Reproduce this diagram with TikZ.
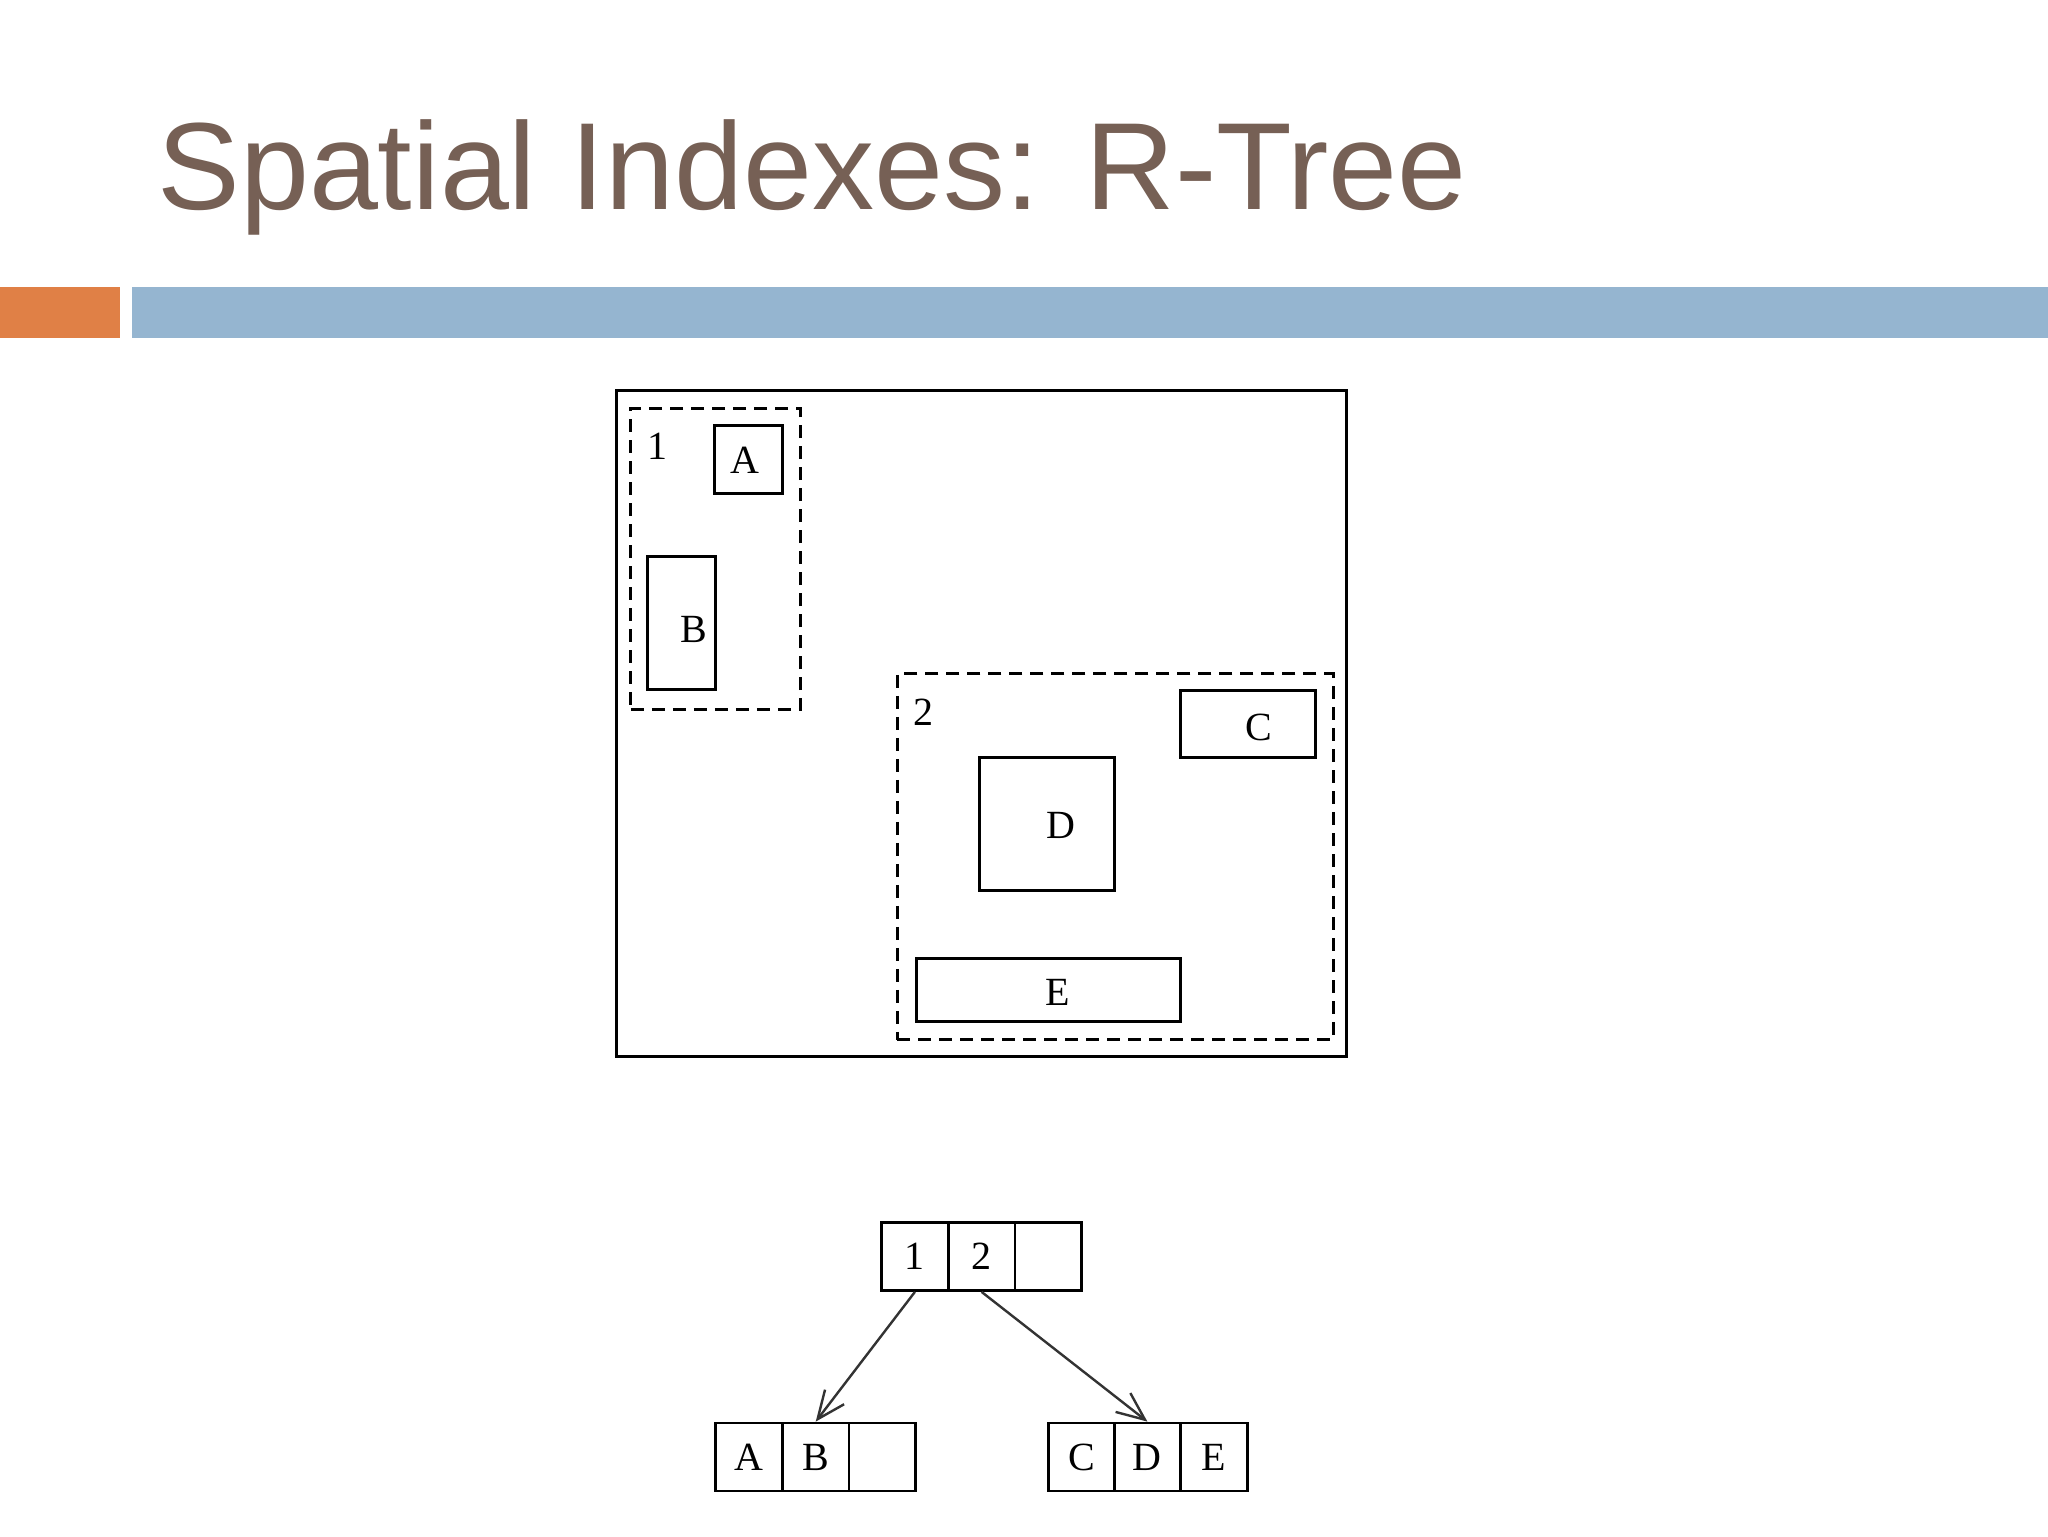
\documentclass[tikz,border=0pt]{standalone}
\usepackage{fontspec}
\setmainfont{Liberation Serif}
\newfontfamily\titlefont{Liberation Sans}
\usetikzlibrary{arrows.meta}
\definecolor{titlecol}{RGB}{118,96,85}
\definecolor{orangebar}{RGB}{224,128,70}
\definecolor{bluebar}{RGB}{149,181,208}
\tikzset{
  box/.style={draw=black, line width=1.5pt, inner sep=0pt},
  mbr/.style={draw=black, line width=1.5pt, dash pattern=on 6.5pt off 4pt, inner sep=0pt},
  lbl/.style={font=\fontsize{20}{20}\selectfont, inner sep=0pt},
  cell/.style={draw=black, line width=1.4pt, minimum width=33.3pt, minimum height=34pt, inner sep=0pt, font=\fontsize{20}{20}\selectfont},
  ptr/.style={draw=black!80, line width=1.2pt, -{Straight Barb[length=14pt,width=12pt,line width=1.2pt]}}
}
\begin{document}
\begin{tikzpicture}[x=0.5pt,y=-0.5pt]
\fill[white] (0,0) rectangle (2048,1536);
\useasboundingbox (0,0) rectangle (2048,1536);
% title and bars
\node[anchor=base west, font=\titlefont\fontsize{62}{62}\selectfont, text=titlecol, inner sep=0pt] (title) at (157,209) {Spatial Indexes: R-Tree};
\fill[orangebar] (0,287) rectangle (120,338);
\fill[bluebar] (132,287) rectangle (2048,338);
% spatial layout
\node[box, minimum width=365pt, minimum height=333pt] (outer) at (981.5,723.5) {};
\node[mbr, minimum width=85pt, minimum height=150.2pt] (r1) at (715.8,559) {};
\node[mbr, minimum width=218pt, minimum height=183pt] (r2) at (1115.4,856.9) {};
\node[box, minimum width=34pt, minimum height=34pt] (bA) at (748.4,459.8) {};
\node[box, minimum width=34pt, minimum height=66.6pt] (bB) at (681.8,623) {};
\node[box, minimum width=67.3pt, minimum height=33.4pt] (bC) at (1248,724.3) {};
\node[box, minimum width=67.3pt, minimum height=66.6pt] (bD) at (1046.9,824.2) {};
\node[box, minimum width=131.9pt, minimum height=31.4pt] (bE) at (1048.8,990) {};
\node[lbl] (t1) at (657,446.7) {1};
\node[lbl] (tA) at (744.5,459.8) {A};
\node[lbl] (tB) at (693.6,629.6) {B};
\node[lbl] (t2) at (923.4,711.8) {2};
\node[lbl] (tC) at (1259,727.5) {C};
\node[lbl] (tD) at (1060.6,825.5) {D};
\node[lbl] (tE) at (1058,992.7) {E};
% tree
\node[cell] (n1) at (914.9,1256.5) {1};
\node[cell] (n2) at (981.6,1256.5) {2};
\node[cell] (n3) at (1048.2,1256.5) {};
\node[cell] (la) at (749.1,1457) {A};
\node[cell] (lb) at (815.7,1457) {B};
\node[cell] (lc) at (882.3,1457) {};
\node[cell] (rc) at (1081.5,1457) {C};
\node[cell] (rd) at (1147.4,1457) {D};
\node[cell] (re) at (1214,1457) {E};
\draw[ptr] (n1.south) -- (lb.north);
\draw[ptr] (n2.south) -- (rd.north);
\end{tikzpicture}
\end{document}
